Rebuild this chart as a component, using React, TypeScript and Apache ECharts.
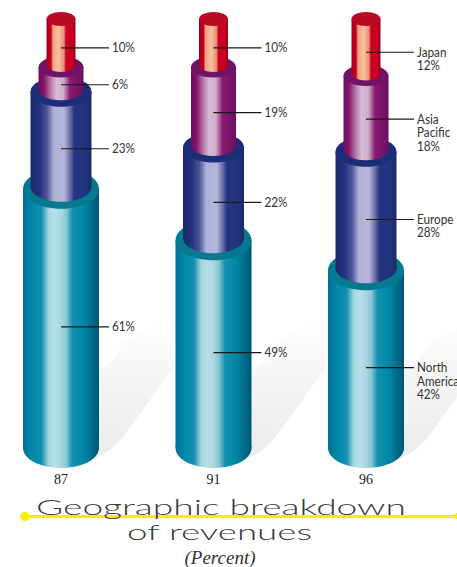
import React, { useEffect, useRef } from "react";
import * as echarts from "echarts";

const years = ["87", "91", "96"];
const tierNames = ["North\nAmerica", "Europe", "Asia\nPacific", "Japan"];
const northAmerica = [61, 49, 42];
const europe = [23, 22, 28];
const asiaPacific = [6, 19, 18];
const japan = [10, 10, 12];
const tiers = [northAmerica, europe, asiaPacific, japan];

const W = 457;
const H = 567;
const radiiX = [38, 30.5, 22.5, 14.5];
const radiiY = [20, 15, 10.5, 7];
const topNudge = [2.5, 4, 5, 0];
const leaderNudge = [8.5, 9.5, 6.5, 6];
const rimColors = ["#05798f", "#1c2e78", "#6f1366", "#b80a25"];
const LABEL_FONT = 'Lato, "Open Sans", sans-serif';

const sideStops: [number, string][][] = [
  [[0, "#006f8c"], [0.12, "#0088aa"], [0.24, "#0f8fae"], [0.34, "#a5d6e2"], [0.42, "#b8e0e9"], [0.5, "#a9d6e1"], [0.57, "#8cc6d4"], [0.65, "#1590af"], [0.8, "#0086a8"], [1, "#00566f"]],
  [[0, "#1b2a6b"], [0.15, "#233380"], [0.27, "#4d5597"], [0.38, "#aeb0d8"], [0.55, "#b5b6da"], [0.65, "#6a6ea8"], [0.72, "#24357f"], [0.9, "#22337e"], [1, "#1b2a66"]],
  [[0, "#6a0f60"], [0.12, "#851268"], [0.28, "#b87ca8"], [0.4, "#d6bcd6"], [0.55, "#cfafcb"], [0.7, "#8a1a70"], [1, "#6a1060"]],
  [[0, "#9a0020"], [0.16, "#cc0020"], [0.22, "#f0a080"], [0.42, "#f8c0a0"], [0.6, "#e89070"], [0.67, "#cc0020"], [0.9, "#c80020"], [1, "#9a0020"]],
];

const shadowOutline: number[][] = [
  [32, 12], [49, 2], [62, -11], [112, -80], [112, -88], [109, -131], [62, -105], [51, -85], [38, -80],
];

function sideFill(t: number) {
  return new echarts.graphic.LinearGradient(
    0, 0, 1, 0,
    sideStops[t].map(([offset, color]) => ({ offset, color }))
  );
}

function tierTopY(api: any, cat: number, t: number) {
  const cum = tiers.slice(0, t + 1).reduce((s, a) => s + a[cat], 0);
  return api.coord([cat, cum])[1] + topNudge[t];
}

function makeTierSeries(t: number) {
  return {
    type: "custom",
    coordinateSystem: "cartesian2d",
    silent: true,
    z: 3 + t,
    data: tiers[t].map((v, i) => [i, v]),
    renderItem: (_p: any, api: any) => {
      const cat = api.value(0);
      const value = api.value(1);
      const cx = api.coord([cat, 0])[0];
      const topY = tierTopY(api, cat, t);
      const baseY = t === 0 ? api.coord([cat, 0])[1] : tierTopY(api, cat, t - 1) - 2;
      const rx = radiiX[t];
      const ry = radiiY[t];
      const midY = (topY + baseY) / 2 + leaderNudge[t];
      const lineEnd = cx + 48;
      const isLast = cat === years.length - 1;
      const labelText = isLast ? `${tierNames[t]}\n${value}%` : `${value}%`;
      return {
        type: "group",
        children: [
          { type: "rect", shape: { x: cx - rx, y: topY, width: rx * 2, height: baseY - topY }, style: { fill: sideFill(t) } },
          { type: "ellipse", shape: { cx, cy: baseY, rx, ry }, style: { fill: sideFill(t) } },
          { type: "ellipse", shape: { cx, cy: topY, rx, ry }, style: { fill: rimColors[t] } },
          { type: "line", shape: { x1: cx, y1: midY, x2: lineEnd, y2: midY }, style: { stroke: "#1a1a1a", lineWidth: 1.2 } },
          {
            type: "text",
            x: lineEnd + 3,
            y: midY - 7,
            scaleX: 0.9,
            style: {
              text: labelText,
              font: `13px ${LABEL_FONT}`,
              fill: "#333333",
              lineHeight: 13.5,
              align: "left",
              verticalAlign: "top",
            },
          },
        ],
      };
    },
  };
}

const shadowSeries = {
  type: "custom",
  coordinateSystem: "cartesian2d",
  silent: true,
  z: 1,
  data: years.map((_, i) => [i, 0]),
  renderItem: (_p: any, api: any) => {
    const [cx, cy] = api.coord([api.value(0), 0]);
    return {
      type: "polygon",
      shape: { points: shadowOutline.map(([dx, dy]) => [cx + dx, cy + dy]) },
      style: {
        fill: new echarts.graphic.LinearGradient(0, 1, 0, 0, [
          { offset: 0, color: "#ebebeb" },
          { offset: 0.55, color: "#f5f5f5" },
          { offset: 1, color: "#ffffff" },
        ]),
      },
    };
  },
};

export default function App() {
  const ref = useRef<HTMLDivElement>(null);
  useEffect(() => {
    const chart = echarts.init(ref.current!, null, { renderer: "svg" });
    chart.setOption({
      animation: false,
      backgroundColor: "#ffffff",
      grid: { left: 61, right: 91, top: 19, bottom: 119 },
      xAxis: {
        type: "category",
        data: years,
        boundaryGap: false,
        axisLine: { show: false },
        axisTick: { show: false },
        axisLabel: {
          margin: 24,
          fontFamily: '"Liberation Serif", serif',
          fontSize: 14,
          color: "#222222",
          showMinLabel: true,
          showMaxLabel: true,
          interval: 0,
        },
      },
      yAxis: { type: "value", min: 0, max: 100, show: false, splitLine: { show: false } },
      series: [shadowSeries, ...tiers.map((_, t) => makeTierSeries(t))],
      graphic: [
        { type: "line", z: 10, shape: { x1: 25, y1: 516.5, x2: W, y2: 516.5 }, style: { stroke: "#ffec00", lineWidth: 3 } },
        { type: "circle", z: 10, shape: { cx: 25, cy: 516.5, r: 4.5 }, style: { fill: "#ffec00" } },
        { type: "circle", z: 10, shape: { cx: W + 1, cy: 516, r: 3.5 }, style: { fill: "#ffec00" } },
        {
          type: "text", z: 11, x: 36, y: 496, scaleX: 1.77,
          style: { text: "Geographic breakdown", font: '300 21px Lato, sans-serif', fill: "#3a3a3a" },
        },
        {
          type: "text", z: 11, x: 127, y: 521, scaleX: 1.75,
          style: { text: "of revenues", font: '300 21px Lato, sans-serif', fill: "#3a3a3a" },
        },
        {
          type: "text", z: 11, x: 220, y: 548,
          style: { text: "(Percent)", font: 'italic 19px "Liberation Serif", serif', fill: "#333333", align: "center" },
        },
      ],
    });
    return () => chart.dispose();
  }, []);
  return <div ref={ref} style={{ position: "absolute", left: 0, top: 0, width: W, height: H }} />;
}
